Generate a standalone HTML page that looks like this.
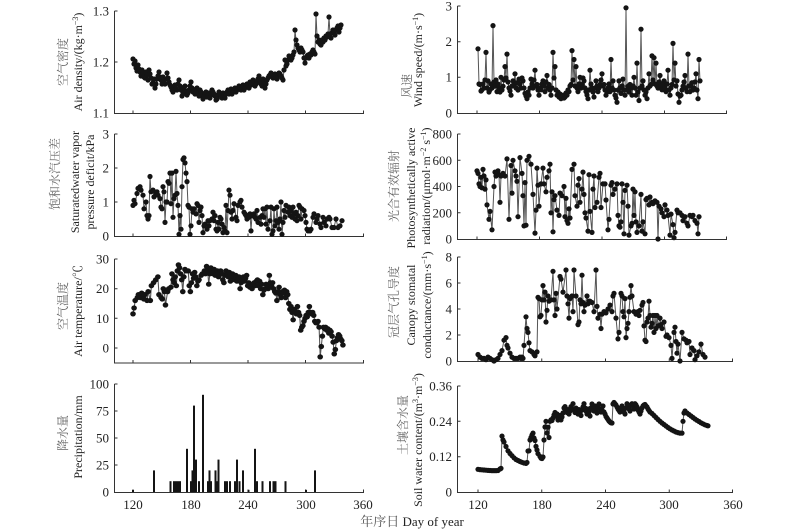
<!DOCTYPE html>
<html><head><meta charset="utf-8"><style>
html,body{margin:0;padding:0;background:#fff;}
svg{display:block;}
.t{font-family:"Liberation Serif","Noto Serif CJK SC",serif;font-size:13px;fill:#222;}
.lb{font-family:"Liberation Serif","Noto Serif CJK SC",serif;font-size:12px;fill:#222;}
.cn{font-family:"Liberation Serif","Noto Serif CJK SC",serif;font-size:12px;fill:#666;}
.ax{stroke:#333;stroke-width:1;fill:none;}
.s{fill:none;stroke:#555;stroke-width:1;marker-start:url(#d);marker-mid:url(#d);marker-end:url(#d);}
</style></head><body>
<svg width="800" height="531" viewBox="0 0 800 531" xmlns="http://www.w3.org/2000/svg">
<defs>
<marker id="d" viewBox="0 0 6 6" refX="3" refY="3" markerWidth="6" markerHeight="6" markerUnits="userSpaceOnUse"><circle cx="3" cy="3" r="2.6" fill="#141414"/></marker>
</defs>
<rect width="800" height="531" fill="#fff"/>

<!-- ===== Panel 1 Left: Air density ===== -->
<path class="ax" d="M114.5,11V113.5H364M114.5,11h3M114.5,62h3M133,113.5v-3M190.5,113.5v-3M248,113.5v-3M305.5,113.5v-3M363.5,113.5v-3"/>
<text class="t" x="109" y="15.5" text-anchor="end">1.3</text>
<text class="t" x="109" y="66.5" text-anchor="end">1.2</text>
<text class="t" x="109" y="117.5" text-anchor="end">1.1</text>
<text class="cn" transform="translate(67,62) rotate(-90)" text-anchor="middle">空气密度</text>
<text class="lb" transform="translate(82,62) rotate(-90)" text-anchor="middle">Air density/(kg·m<tspan dy="-4" font-size="8">−3</tspan><tspan dy="4">)</tspan></text>
<polyline class="s" points="133,59 134,64 135,61 136,68 137,71 138,65 139,69 140,72 141,76 142,70 143,73 144,77 145,78 146,72 147,75 148,80 149,70 150,74 151,78 152,84 153,83 154,79 155,88 156,84 157,79 158,76 159,72 160,77 161,80 162,84 163,77 164,80 165,84 166,79 167,73 168,78 169,82 170,85 171,87 172,90 173,92 174,88 175,85 176,89 177,90 178,84 179,80 180,86 181,90 182,96 183,93 184,88 185,86 186,91 187,95 188,93 189,90 190,86 191,82 192,88 193,92 194,90 195,94 196,91 197,88 198,93 199,96 200,90 201,92 202,96 203,99 204,97 205,94 206,92 207,97 208,95 209,93 210,98 211,95 212,90 213,92 214,94 215,96 216,100 217,99 218,95 219,92 220,94 221,96 222,98 223,93 224,95 225,98 226,94 227,92 228,90 229,94 230,92 231,89 232,94 233,92 234,90 235,88 236,92 237,90 238,88 239,86 240,88 241,90 242,87 243,85 244,90 245,88 246,86 247,84 248,86 249,88 250,82 251,85 252,83 253,80 254,84 255,86 256,84 257,82 258,79 259,76 260,80 261,84 262,86 263,79 264,82 265,88 266,84 267,80 268,78 269,76 270,75 271,73 272,76 273,78 274,77 275,74 276,78 277,79 278,75 279,73 280,74 281,76 282,78 283,80 284,70 285,60 286,66 287,64 288,60 289,56 290,58 291,60 292,58 293,55 294,52 295,30 296,40 297,45 298,48 299,50 300,52 301,48 302,50 303,52 304,58 305,63 306,58 307,56 308,55 309,58 310,54 311,55 312,52 313,50 314,52 315,54 316,14 317,36 318,42 319,40 320,44 321,45 322,40 323,42 324,38 325,40 326,36 327,37 328,34 329,17 330,34 331,38 332,33 333,30 334,32 335,35 336,30 337,28 338,26 339,32 340,28 341,25"/>

<!-- ===== Panel 1 Right: Wind speed ===== -->
<path class="ax" d="M457.5,6V113.5H727M457.5,6h3M457.5,41.7h3M457.5,77.3h3M477,113.5v-3M539.5,113.5v-3M602,113.5v-3M664.5,113.5v-3M726.5,113.5v-3"/>
<text class="t" x="452" y="10.5" text-anchor="end">3</text>
<text class="t" x="452" y="46" text-anchor="end">2</text>
<text class="t" x="452" y="81.5" text-anchor="end">1</text>
<text class="t" x="452" y="117.5" text-anchor="end">0</text>
<text class="cn" transform="translate(411,86) rotate(-90)" text-anchor="middle">风速</text>
<text class="lb" transform="translate(422,60) rotate(-90)" text-anchor="middle">Wind speed/(m·s<tspan dy="-4" font-size="8">−1</tspan><tspan dy="4">)</tspan></text>
<polyline class="s" points="478,48.8 479,84 480,84.5 481,91 482,89.8 483,84 484,88 485,80 486,52.4 487,88 488,80.9 489,92 490,89.8 491,84 492,88 493,25.6 494,82 495,86.2 496,80 497,91.6 498,84 499,88 500,92 501,77.3 502,90 503,86.2 504,80 505,66.6 506,78 507,54.1 508,82 509,88 510,91 511,95.2 512,86 513,80.9 514,84 515,73.8 516,88 517,82.7 518,90 519,79.1 520,84 521,88 522,78 523,80.9 524,88 525,93.4 526,96 527,98.7 528,92 529,95.2 530,88 531,79.1 532,84 533,88 534,80 535,70.2 536,86 537,84.5 538,90 539,95.2 540,88 541,89.8 542,84 543,80.9 544,86 545,91.6 546,82 547,75.5 548,88 549,84.5 550,90 551,95.2 552,88 553,52.4 554,78 555,66.6 556,90 557,95.2 558,92 559,97 560,94 561,98.7 562,96 563,95.2 564,98 565,97 566,93 567,95.2 568,90 569,91.6 570,86 571,84.5 572,50.6 573,80 574,59.5 575,86 576,66.6 577,88 578,91.6 579,84 580,77.3 581,88 582,84.5 583,78 584,80.9 585,88 586,91.6 587,95 588,98.7 589,90 590,70.2 591,84 592,88 593,92 594,97 595,88 596,80.9 597,86 598,91.6 599,88 600,84.5 601,80 602,73.8 603,86 604,84.5 605,90 606,95.2 607,92 608,88 609,84 610,91.6 611,59.5 612,88 613,80.9 614,90 615,95.2 616,98 617,102.3 618,90 619,80.9 620,88 621,93.4 622,86 623,79.1 624,90 625,95.2 626,7.8 627,90 628,86.2 629,92 630,84.5 631,88 632,95.2 633,86 634,77.3 635,88 636,95.2 637,63.1 638,92 639,100.5 640,88 641,29.2 642,86 643,80.9 644,90 645,95.2 646,92 647,98.7 648,88 649,73.8 650,86 651,84.5 652,55.9 653,80 654,57.7 655,84 656,63.1 657,86 658,88 659,82 660,75.5 661,86 662,89.8 663,84 664,80.9 665,88 666,91.6 667,84 668,70.2 669,90 670,95.2 671,88 672,84.5 673,43.4 674,80 675,63.1 676,86 677,80.9 678,94 679,102.3 680,96 681,95.2 682,90 683,86.2 684,82 685,75.5 686,88 687,91.6 688,54.1 689,86 690,91.6 691,86 692,82.7 693,90 694,88 695,82 696,73.8 697,90 698,98.7 699,59.5 700,80.9"/>

<!-- ===== Panel 2 Left: VPD ===== -->
<path class="ax" d="M114.5,134V236.5H364M114.5,134h3M114.5,168h3M114.5,202h3M133,236.5v-3M190.5,236.5v-3M248,236.5v-3M305.5,236.5v-3M363.5,236.5v-3"/>
<text class="t" x="109" y="138.5" text-anchor="end">3</text>
<text class="t" x="109" y="172.5" text-anchor="end">2</text>
<text class="t" x="109" y="206.5" text-anchor="end">1</text>
<text class="t" x="109" y="240.5" text-anchor="end">0</text>
<text class="cn" transform="translate(59,174) rotate(-90)" text-anchor="middle">饱和水汽压差</text>
<text class="lb" transform="translate(79,182) rotate(-90)" text-anchor="middle">Saturatedwater vapor</text>
<text class="lb" transform="translate(94,182) rotate(-90)" text-anchor="middle">pressure deficit/kPa</text>
<polyline class="s" points="133,205.4 134,200.3 135,203.7 137,193.5 138,188.4 140,186.7 141,190.1 143,195.2 144,208.8 146,202 147,215.6 148,219 149,215.6 150,176.5 151,191.8 153,190.1 154,196.9 156,193.5 157,191.8 158,195.2 160,198.6 161,207.1 162,208.8 163,186.7 164,191.8 165,222.4 166,202 167,202 168,181.6 169,183.3 170,173.1 171,203.7 172,173.1 173,217.3 174,198.6 175,195.2 176,171.4 177,193.5 178,205.4 179,234.3 180,215.6 181,229.2 182,186.7 183,159.5 184,157.8 185,162.9 186,173.1 187,181.6 188,205.4 189,207.1 190,234.3 191,225.8 192,208.8 193,212.2 194,208.8 196,213.9 197,203.7 198,205.4 199,222.4 200,210.5 201,207.1 202,215.6 203,232.6 204,225.8 205,224.1 207,229.2 208,220.7 209,225.8 210,220.7 212,219 213,212.2 214,220.7 215,215.6 216,229.2 217,230.9 218,222.4 219,229.2 220,217.3 221,219 222,224.1 223,232.6 224,227.5 225,230.9 226,205.4 227,232.6 228,210.5 229,190.1 230,195.2 231,212.2 232,219 233,210.5 234,203.7 236,217.3 237,220.7 238,205.4 240,202 241,200.3 242,207.1 244,212.2 245,213.9 246,215.6 247,219 249,217.3 250,213.9 251,230.9 252,215.6 254,213.9 255,217.3 256,219 257,210.5 258,222.4 260,217.3 261,224.1 262,215.6 263,208.8 264,217.3 265,208.8 266,224.1 267,207.1 268,229.2 270,220.7 271,207.1 272,234.3 273,230.9 274,208.8 275,225.8 276,220.7 277,207.1 278,222.4 279,229.2 280,219 281,202 282,234.3 283,222.4 284,210.5 285,217.3 286,205.4 288,212.2 289,207.1 290,215.6 291,210.5 292,217.3 293,207.1 294,213.9 295,219 296,212.2 297,220.7 298,215.6 299,205.4 300,207.1 301,219 302,208.8 304,210.5 305,215.6 306,222.4 307,229.2 308,230.9 310,230.9 311,229.2 313,217.3 314,213.9 316,222.4 317,219 318,215.6 320,224.1 321,227.5 323,217.3 324,222.4 326,225.8 327,219 329,217.3 330,219 332,227.5 334,227.5 336,219 338,227.5 340,225.8 342,220.7"/>

<!-- ===== Panel 2 Right: PAR ===== -->
<path class="ax" d="M457.5,134V239.5H727M457.5,134h3M457.5,160.3h3M457.5,186.5h3M457.5,212.8h3M477,239.5v-3M539.5,239.5v-3M602,239.5v-3M664.5,239.5v-3M726.5,239.5v-3"/>
<text class="t" x="452" y="138.5" text-anchor="end">800</text>
<text class="t" x="452" y="164.8" text-anchor="end">600</text>
<text class="t" x="452" y="191" text-anchor="end">400</text>
<text class="t" x="452" y="217.3" text-anchor="end">200</text>
<text class="t" x="452" y="243.5" text-anchor="end">0</text>
<text class="cn" transform="translate(398,186) rotate(-90)" text-anchor="middle">光合有效辐射</text>
<text class="lb" transform="translate(415,188) rotate(-90)" text-anchor="middle">Photosynthetically active</text>
<text class="lb" transform="translate(430,186) rotate(-90)" text-anchor="middle">radiation/(μmol·m<tspan dy="-4" font-size="8">−2</tspan><tspan dy="4"> s</tspan><tspan dy="-4" font-size="8">−1</tspan><tspan dy="4">)</tspan></text>
<polyline class="s" points="477,170.8 478,173.4 479,183.9 480,186.5 481,177.3 482,187.8 483,169.4 484,176 485,189.1 486,179.9 487,204.9 489,219.3 490,211.4 492,229.8 494,186.5 495,172.1 496,176 497,173.4 498,170.8 499,174.7 500,202.3 501,176 503,173.4 505,176 507,158.9 509,219.3 511,165.5 512,193.1 513,160.3 515,170.8 516,176 517,181.3 518,216.7 520,157.6 522,173.4 523,195.7 524,225.9 525,182.6 526,225.2 527,160.3 529,156.3 531,164.2 533,194.4 535,233.1 536,210.1 537,168.1 538,185.2 539,206.2 541,183.9 543,168.1 544,183.9 546,191.8 547,177.3 549,170.8 550,164.2 551,212.8 552,191.8 553,231.8 554,199.6 555,195.7 557,210.1 559,215.4 560,193.1 562,195.7 564,186.5 565,216.7 566,198.3 567,220.6 568,223.3 569,208.8 570,218 572,169.4 574,164.2 575,195.7 577,206.2 578,185.2 579,178.6 580,202.3 582,189.1 583,172.1 584,194.4 585,212.8 586,218 588,231.1 589,174.7 590,211.4 592,232.4 593,189.1 594,176 595,207.5 597,202.3 599,177.3 600,173.4 601,207.5 603,183.9 605,183.9 606,200 608,229.8 609,219.3 611,185.2 612,182.6 613,194.4 615,189.1 617,183.9 618,215.4 619,225.9 620,227.2 621,221.9 622,183.9 623,202.3 624,233.8 625,190.4 627,185.2 628,206.2 629,235.1 631,225.9 632,223.3 633,189.1 634,215.4 635,191.8 636,221.9 637,232.4 639,225.9 641,194.4 642,231.1 643,221.9 645,233.8 646,199.6 647,198.3 649,204.9 650,197 652,202.3 653,203.6 655,200.9 657,202.3 658,239 659,206.2 661,208.8 662,212.8 664,216.7 665,204.9 667,210.1 668,215.4 670,235.1 671,214.1 673,224.6 674,237.7 675,232.4 677,210.1 678,212.8 680,212.8 682,215.4 683,220.6 685,216.7 687,223.3 688,225.9 690,215.4 692,216.7 693,215.4 695,220.6 697,223.3 698,233.8 699,216.7"/>

<!-- ===== Panel 3 Left: Air temperature ===== -->
<path class="ax" d="M114.5,259V363H364M114.5,259h3M114.5,288.7h3M114.5,318.3h3M114.5,348h3M133,363v-3M190.5,363v-3M248,363v-3M305.5,363v-3M363.5,363v-3"/>
<text class="t" x="109" y="263.5" text-anchor="end">30</text>
<text class="t" x="109" y="293.2" text-anchor="end">20</text>
<text class="t" x="109" y="322.8" text-anchor="end">10</text>
<text class="t" x="109" y="352.5" text-anchor="end">0</text>
<text class="cn" transform="translate(67,306) rotate(-90)" text-anchor="middle">空气温度</text>
<text class="lb" transform="translate(82,311) rotate(-90)" text-anchor="middle">Air temperature/℃</text>
<g transform="translate(-10.9,0) scale(1.082,1)">
<polyline class="s" points="133,313.9 134,308 135,300.5 137,297.6 138,294.6 140,297.6 141,293.1 143,299 144,294.6 146,300.5 147,291.6 149,300.5 150,285.7 152,282.7 154,279.8 156,276.8 157,294.6 159,297.6 160,299 161,288.7 162,291.6 163,305 165,291.6 166,288.7 168,287.2 169,273.8 170,279.8 171,282.7 172,276.8 173,285.7 174,270.9 175,264.9 176,267.9 177,273.8 178,279.8 179,291.6 180,276.8 181,269.4 182,270.9 184,270.9 185,285.7 186,291.6 187,282.7 188,273.8 189,278.3 190,272.3 191,276.8 192,285.7 193,281.2 194,279.8 196,275.3 197,273.8 199,270.9 200,273.8 201,266.4 202,270.9 203,284.2 204,273.8 205,267.9 206,270.9 207,273.8 208,269.4 209,275.3 210,273.8 211,270.9 212,276.8 213,272.3 214,270.9 215,273.8 216,279.8 217,282.7 218,275.3 219,270.9 220,273.8 221,276.8 222,272.3 223,281.2 224,276.8 225,273.8 226,276.8 227,279.8 228,275.3 229,281.2 230,278.3 231,276.8 232,288.7 233,282.7 234,279.8 235,276.8 236,281.2 237,278.3 238,275.3 239,285.7 240,282.7 241,287.2 242,285.7 243,288.7 244,284.2 245,282.7 246,285.7 247,281.2 248,279.8 249,285.7 250,281.2 251,288.7 252,284.2 253,294.6 254,290.1 255,288.7 256,284.2 257,285.7 258,288.7 259,275.3 260,282.7 261,285.7 262,282.7 263,288.7 264,291.6 265,293.1 266,300.5 267,291.6 268,287.2 269,294.6 270,297.6 271,291.6 272,293.1 273,290.1 274,297.6 275,291.6 276,294.6 277,303.5 278,309.4 279,306.5 280,312.4 281,319.8 282,309.4 283,312.4 284,313.9 285,306.5 286,312.4 287,315.4 288,330.2 289,327.2 290,325.7 291,321.3 292,318.3 293,315.4 294,316.8 295,312.4 296,306.5 297,312.4 298,313.9 299,312.4 300,315.4 301,321.3 302,322.8 303,322.8 304,321.3 305,327.2 306,356.9 307,346.5 308,336.1 309,327.2 310,328.7 311,327.2 312,330.2 313,328.7 314,333.2 315,330.2 316,331.7 317,336.1 318,342.1 319,353.9 320,349.5 321,340.6 322,337.6 323,334.6 324,336.1 325,339.1 326,340.6 327,345"/>
</g>

<!-- ===== Panel 3 Right: Canopy conductance ===== -->
<path class="ax" d="M457.5,257V361.5H733M457.5,257h3M457.5,283h3M457.5,309h3M457.5,335h3M478,361.5v-3M541.75,361.5v-3M605.5,361.5v-3M669.25,361.5v-3M732.5,361.5v-3"/>
<text class="t" x="452" y="261.5" text-anchor="end">8</text>
<text class="t" x="452" y="287.5" text-anchor="end">6</text>
<text class="t" x="452" y="313.5" text-anchor="end">4</text>
<text class="t" x="452" y="339.5" text-anchor="end">2</text>
<text class="t" x="452" y="365.5" text-anchor="end">0</text>
<text class="cn" transform="translate(398,302) rotate(-90)" text-anchor="middle">冠层气孔导度</text>
<text class="lb" transform="translate(415,305) rotate(-90)" text-anchor="middle">Canopy stomatal</text>
<text class="lb" transform="translate(431,305) rotate(-90)" text-anchor="middle">conductance/(mm·s<tspan dy="-4" font-size="8">−1</tspan><tspan dy="4">)</tspan></text>
<polyline class="s" points="478,354.5 480,357.1 482,358.4 484,358.4 486,359.7 488,357.1 490,358.4 492,359.7 494,361 496,359.7 498,358.4 500,354.5 502,350.6 504,340.2 506,337.6 507,345.4 508,348 510,353.2 512,357.1 514,358.4 516,358.4 518,358.4 520,357.1 521,358.4 522,357.1 523,358.4 524,345.4 526,316.8 527,328.5 528,332.4 529,342.8 530,350.6 532,351.9 534,354.5 535,355.8 537,351.9 538,297.3 539,298.6 540,316.8 541,315.5 542,299.9 543,285.6 544,299.9 545,292.1 546,322 547,310.3 548,296 549,301.2 551,299.9 553,271.3 554,299.9 555,315.5 556,293.4 557,309 560,276.5 561,279.1 563,292.1 566,270 567,296 568,303.8 569,318.1 570,298.6 571,297.3 572,296 573,311.6 574,270 576,296 578,324.6 579,322 580,299.9 581,303.8 582,275.2 583,302.5 584,311.6 585,305.1 587,296 588,303.8 589,301.2 590,301.2 592,302.5 594,311.6 596,270 597,306.4 598,318.1 600,314.2 601,328.5 602,314.2 604,311.6 606,312.9 608,309 610,305.1 612,311.6 613,296 614,293.4 616,318.1 618,338.9 619,332.4 621,293.4 622,296 623,311.6 624,316.8 625,298.6 626,337.6 627,328.5 628,323.3 629,311.6 630,297.3 631,285.6 632,296 634,311.6 636,314.2 638,311.6 639,315.5 640,310.3 642,305.1 643,302.5 644,325.9 645,340.2 646,341.5 647,322 648,318.1 649,301.2 650,315.5 651,327.2 652,323.3 653,315.5 654,332.4 655,315.5 656,328.5 657,315.5 658,325.9 660,318.1 661,324.6 662,328.5 664,322 666,336.3 667,335 669,337.6 671,345.4 672,358.4 674,332.4 675,327.2 676,341.5 677,353.2 678,344.1 680,361 682,332.4 684,338.9 686,340.2 687,342.8 689,341.5 690,354.5 692,348 694,350.6 695,359.7 697,355.8 699,351.9 701,344.1 703,354.5 705,357.1"/>

<!-- ===== Panel 4 Left: Precipitation ===== -->
<path class="ax" d="M114.5,384V492.5H364M114.5,384h3M114.5,411h3M114.5,438h3M114.5,465h3M133,492.5v-3M190.5,492.5v-3M248,492.5v-3M305.5,492.5v-3M363.5,492.5v-3"/>
<text class="t" x="109" y="388.5" text-anchor="end">100</text>
<text class="t" x="109" y="415.5" text-anchor="end">75</text>
<text class="t" x="109" y="442.5" text-anchor="end">50</text>
<text class="t" x="109" y="469.5" text-anchor="end">25</text>
<text class="t" x="109" y="496.5" text-anchor="end">0</text>
<text class="t" x="133" y="509" text-anchor="middle">120</text>
<text class="t" x="191" y="509" text-anchor="middle">180</text>
<text class="t" x="248" y="509" text-anchor="middle">240</text>
<text class="t" x="306" y="509" text-anchor="middle">300</text>
<text class="t" x="363" y="509" text-anchor="middle">360</text>
<text class="cn" transform="translate(67,433) rotate(-90)" text-anchor="middle">降水量</text>
<text class="lb" transform="translate(82,437) rotate(-90)" text-anchor="middle">Precipitation/mm</text>
<g fill="#141414">
<rect x="132" y="489.8" width="2" height="2.2"/>
<rect x="153" y="470.4" width="2" height="21.6"/>
<rect x="169.5" y="481.2" width="2" height="10.8"/>
<rect x="173" y="481.2" width="2" height="10.8"/>
<rect x="175" y="481.2" width="2" height="10.8"/>
<rect x="177" y="481.2" width="2" height="10.8"/>
<rect x="179" y="481.2" width="2" height="10.8"/>
<rect x="186" y="448.8" width="2" height="43.2"/>
<rect x="190" y="481.2" width="2" height="10.8"/>
<rect x="191.5" y="470.4" width="2" height="21.6"/>
<rect x="193" y="405.6" width="2" height="86.4"/>
<rect x="195" y="459.6" width="2" height="32.4"/>
<rect x="198" y="481.2" width="2" height="10.8"/>
<rect x="202" y="394.8" width="2" height="97.2"/>
<rect x="207" y="481.2" width="2" height="10.8"/>
<rect x="208.5" y="470.4" width="2" height="21.6"/>
<rect x="210" y="481.2" width="2" height="10.8"/>
<rect x="214.5" y="470.4" width="2" height="21.6"/>
<rect x="216" y="481.2" width="2" height="10.8"/>
<rect x="217.5" y="459.6" width="2" height="32.4"/>
<rect x="224" y="481.2" width="2" height="10.8"/>
<rect x="226" y="481.2" width="2" height="10.8"/>
<rect x="229" y="481.2" width="2" height="10.8"/>
<rect x="234" y="481.2" width="2" height="10.8"/>
<rect x="236" y="459.6" width="2" height="32.4"/>
<rect x="238.5" y="481.2" width="2" height="10.8"/>
<rect x="242" y="470.4" width="2" height="21.6"/>
<rect x="247.5" y="489.8" width="2" height="2.2"/>
<rect x="254" y="448.8" width="2" height="43.2"/>
<rect x="256" y="481.2" width="2" height="10.8"/>
<rect x="261.5" y="481.2" width="2" height="10.8"/>
<rect x="269" y="481.2" width="2" height="10.8"/>
<rect x="272.5" y="481.2" width="2" height="10.8"/>
<rect x="274.5" y="481.2" width="2" height="10.8"/>
<rect x="284.5" y="481.2" width="2" height="10.8"/>
<rect x="305" y="489.8" width="2" height="2.2"/>
<rect x="314" y="470.4" width="2" height="21.6"/>
</g>

<!-- ===== Panel 4 Right: Soil water ===== -->
<path class="ax" d="M457.5,386V492.5H733M457.5,386h3M457.5,421.3h3M457.5,456.7h3M478,492.5v-3M541.75,492.5v-3M605.5,492.5v-3M669.25,492.5v-3M732.5,492.5v-3"/>
<text class="t" x="452" y="390.5" text-anchor="end">0.36</text>
<text class="t" x="452" y="425.8" text-anchor="end">0.24</text>
<text class="t" x="452" y="461.2" text-anchor="end">0.12</text>
<text class="t" x="452" y="496.5" text-anchor="end">0</text>
<text class="t" x="478" y="509" text-anchor="middle">120</text>
<text class="t" x="542" y="509" text-anchor="middle">180</text>
<text class="t" x="606" y="509" text-anchor="middle">240</text>
<text class="t" x="669" y="509" text-anchor="middle">300</text>
<text class="t" x="733" y="509" text-anchor="middle">360</text>
<text class="cn" transform="translate(407,425) rotate(-90)" text-anchor="middle">土壤含水量</text>
<text class="lb" transform="translate(422,440) rotate(-90)" text-anchor="middle">Soil water content/(m<tspan dy="-4" font-size="8">3</tspan><tspan dy="4">·m</tspan><tspan dy="-4" font-size="8">−3</tspan><tspan dy="4">)</tspan></text>
<polyline class="s" points="478,469.3 480,469.6 482,469.8 484,470 486,470.2 488,470.4 490,470.5 492,470.6 494,470.6 496,470.6 498,470.5 500,469 501,468.4 502,436.1 503,440 504,442 506,446.5 508,450.8 510,453.5 512,455.7 514,457.8 516,459.5 518,460.5 520,461.5 522,462.3 524,463 526,463.4 527,462.5 528,451 529,450.8 530,440 531,437.5 532,435 533,433.1 534,438 535,440.5 536,446.4 537,450 538,453.7 540,456.5 541,458.1 542,458.5 543,457 544,440 545,427 546,421.3 547,433 548,427.2 549,437.5 550,421.3 551,419.9 552,420.5 553,418 554,415 555,412.5 556,416 557,414 558,420 559,418.4 560,415.5 561,419.9 562,417 563,413 564,408 565,406.6 566,410 567,412.5 568,409.6 569,414 570,411 571,406.6 572,409.6 573,403.7 574,410 575,412.5 576,408.1 577,411 578,414 579,409.6 580,413 581,415.5 582,410 583,407 584,403.7 585,408 586,411 587,414 588,409 589,412 590,416 591,408 592,404 593,409 594,411 595,406 596,409 597,413 598,408 599,404 600,409 601,412 602,410 603,406 604,412 605,414 606,416.5 607,418 608,419.5 609,421 610,422 611,422.8 612,423 613,404 614,402.5 615,403.7 616,405 617,407 618,409 619,410.5 620,412 621,408 622,406 623,409 624,412 625,414 626,408 627,403.7 628,406 629,409 630,411 631,405 632,403.7 633,406 634,409 635,403.7 636,405 637,407 638,410 639,412 640,414 641,411 642,408 643,406 644,405 645,404.5 646,406 647,407 648,409 649,410.5 650,412 652,413.5 654,415.5 656,417.5 658,419.5 660,421.3 662,423 664,424.5 666,426 668,427.5 670,428.8 672,430 674,431 676,432 678,432.6 680,433.1 682,433.1 683,421.3 684,413 685,411 687,413 689,414.5 691,416 693,417.5 695,419 697,420.3 699,421.5 701,422.8 703,423.8 705,424.8 707,425.5 708,425.8"/>

<!-- X axis title -->
<text class="t" x="412" y="526" text-anchor="middle"><tspan fill="#555">年序日</tspan> Day of year</text>
</svg>
</body></html>
